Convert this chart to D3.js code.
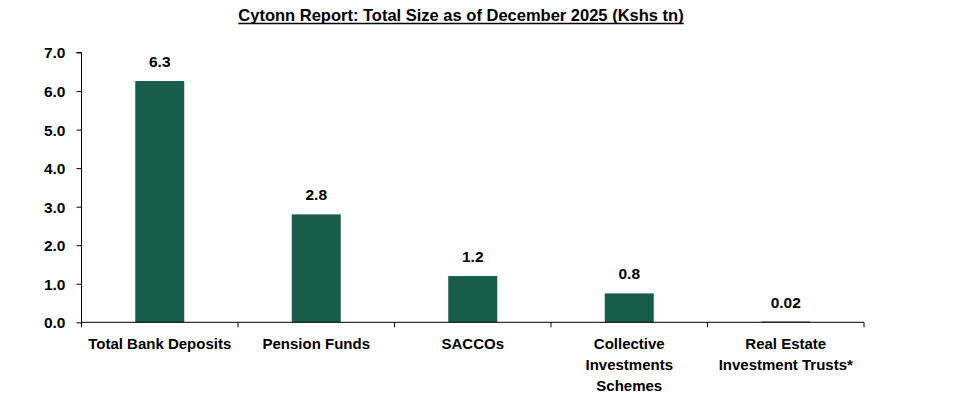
<!DOCTYPE html>
<html><head><meta charset="utf-8">
<script src="https://cdn.jsdelivr.net/npm/d3@7"></script>
<style>body{margin:0;background:#fff}svg{display:block}text{font-family:"Liberation Sans",Arial,sans-serif;font-weight:bold;fill:#000}</style>
</head><body>
<svg id="c" width="970" height="398"></svg>
<script>
const categories = [["Total Bank Deposits"],["Pension Funds"],["SACCOs"],["Collective","Investments","Schemes"],["Real Estate","Investment Trusts*"]];
const values = [6.26, 2.80, 1.20, 0.75, 0.02];
const valueLabels = ["6.3","2.8","1.2","0.8","0.02"];
const yTicks = [0,1,2,3,4,5,6,7];
const title = "Cytonn Report: Total Size as of December 2025 (Kshs tn)";

const svg = d3.select("#c");
const pLeft = 81.5, pRight = 864, pTop = 52.5, pBottom = 322.3;
const x = d3.scaleBand().domain(d3.range(categories.length)).range([pLeft, pRight]).padding(0);
const y = d3.scaleLinear().domain([0,7]).range([pBottom, pTop]);
const barW = x.bandwidth() * 0.313;

// title
const t = svg.append("text").attr("x", 461).attr("y", 21).attr("text-anchor","middle")
  .style("font-size","16.5px").text(title);
const tb = t.node().getBBox();
svg.append("line").attr("x1", tb.x).attr("x2", tb.x+tb.width).attr("y1", 23.5).attr("y2", 23.5)
  .attr("stroke","#000").attr("stroke-width",1.4);

// bars
svg.selectAll("rect.bar").data(values).join("rect").attr("class","bar")
  .attr("x",(d,i)=>x(i)+x.bandwidth()/2-barW/2).attr("width",barW)
  .attr("y",d=>y(d)).attr("height",d=>pBottom-y(d)).attr("fill","#185C4A");

// value labels
svg.selectAll("text.vl").data(values).join("text").attr("class","vl")
  .attr("x",(d,i)=>x(i)+x.bandwidth()/2).attr("y",d=>y(d)-14)
  .attr("text-anchor","middle").style("font-size","15.5px").text((d,i)=>valueLabels[i]);

// y axis
const ya = svg.append("g").attr("transform",`translate(${pLeft},0)`)
  .call(d3.axisLeft(y).tickValues(yTicks).tickFormat(d3.format(".1f")).tickSize(5).tickPadding(11));
ya.select(".domain").attr("stroke","#000").attr("d",`M-5,${pTop}H0V${pBottom}`);
ya.selectAll("text").style("font-size","15.5px").attr("font-family",null).attr("dy","0.35em");
ya.selectAll(".tick line").attr("stroke","#000");

// x axis
const xa = svg.append("g").attr("transform",`translate(0,${pBottom})`);
xa.append("line").attr("x1",pLeft).attr("x2",pRight).attr("stroke","#000");
const bounds = d3.range(categories.length+1).map(i=> i<categories.length ? x(i) : pRight);
xa.selectAll("line.tk").data(bounds).join("line").attr("class","tk")
  .attr("x1",d=>d).attr("x2",d=>d).attr("y1",0).attr("y2",5).attr("stroke","#000");
categories.forEach((lines,i)=>{
  const tx = xa.append("text").attr("x",x(i)+x.bandwidth()/2).attr("y",27).attr("text-anchor","middle").style("font-size","15px");
  lines.forEach((l,j)=>tx.append("tspan").attr("x",x(i)+x.bandwidth()/2).attr("dy", j===0?0:21).text(l));
});
</script>
</body></html>
